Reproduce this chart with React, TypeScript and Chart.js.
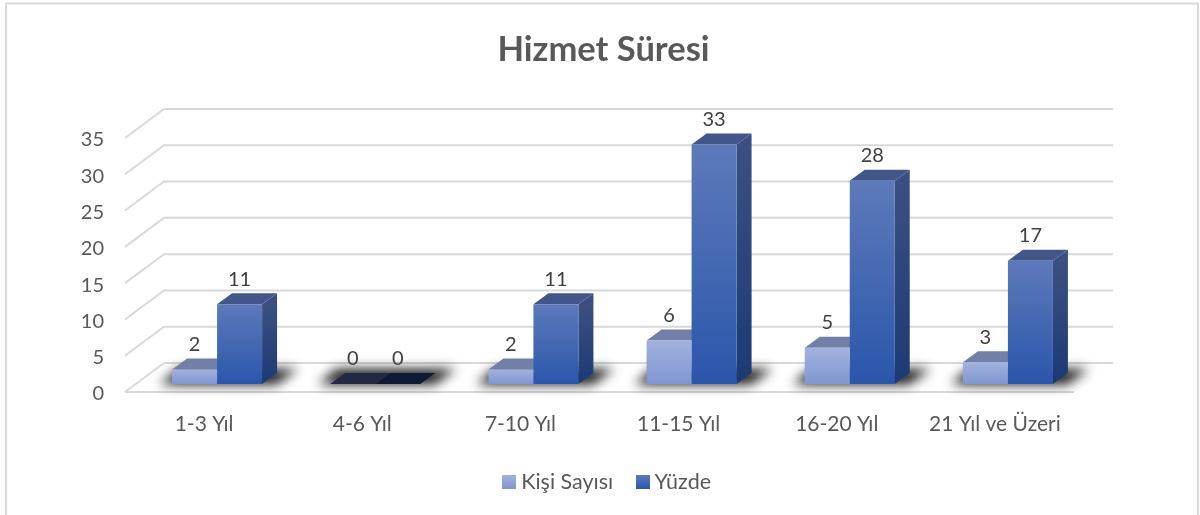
import React, { useEffect, useRef } from "react";
import { Chart, registerables } from "chart.js";

Chart.register(...registerables);

const titleText = "Hizmet Süresi";
const categories = ["1-3 Yıl", "4-6 Yıl", "7-10 Yıl", "11-15 Yıl", "16-20 Yıl", "21 Yıl ve Üzeri"];
const kisiSayisi = [2, 0, 2, 6, 5, 3];
const yuzde = [11, 0, 11, 33, 28, 17];
const seriesNames = ["Kişi Sayısı", "Yüzde"];

const FONT = "Lato, Carlito, 'Open Sans', sans-serif";
const GRID = "#d9d9d9";
const WALL_DX = 39;
const WALL_DY = -29;
const BAR_DX = 13;
const BAR_DY = -8;
const DEPTH_DX = 15;
const DEPTH_DY = -11;
const LEGEND_SHIFT = 6;

const palette = [
  { top: "#a3b2df", bottom: "#7f96d0", lid: "#7280a8", sideTop: "#5f6f9c", sideBottom: "#47598f", zero: "#212a42" },
  { top: "#5d7aba", bottom: "#2a56ab", lid: "#42568a", sideTop: "#3b5080", sideBottom: "#1b3a75", zero: "#0e1a36" },
];

function swatch(i: number) {
  const c = document.createElement("canvas");
  c.width = 14;
  c.height = 14;
  const g = c.getContext("2d")!;
  const lin = g.createLinearGradient(0, 0, 0, 14);
  lin.addColorStop(0, palette[i].top);
  lin.addColorStop(1, palette[i].bottom);
  g.fillStyle = lin;
  g.fillRect(0, 0, 14, 14);
  return c;
}

function poly(ctx: CanvasRenderingContext2D, pts: number[][], fill: any) {
  ctx.beginPath();
  pts.forEach((p, i) => (i ? ctx.lineTo(p[0], p[1]) : ctx.moveTo(p[0], p[1])));
  ctx.closePath();
  ctx.fillStyle = fill;
  ctx.fill();
}

const backdrop = {
  id: "backdrop",
  afterLayout(chart: any) {
    if (chart.legend) {
      chart.legend.left += LEGEND_SHIFT;
      chart.legend.right += LEGEND_SHIFT;
    }
  },
  beforeDraw(chart: any) {
    const { ctx, chartArea, scales } = chart;
    ctx.save();
    ctx.strokeStyle = GRID;
    ctx.lineWidth = 2;
    ctx.strokeRect(6, 3.5, 1192, 600);
    scales.y.ticks.forEach((_: any, i: number) => {
      const y = scales.y.getPixelForTick(i);
      ctx.beginPath();
      ctx.moveTo(chartArea.left, y);
      ctx.lineTo(chartArea.left + WALL_DX, y + WALL_DY);
      if (i > 0) ctx.lineTo(chartArea.right + WALL_DX, y + WALL_DY);
      ctx.stroke();
    });
    const y0 = scales.y.getPixelForValue(0);
    ctx.beginPath();
    ctx.moveTo(chartArea.right, y0);
    ctx.lineTo(chartArea.left, y0);
    ctx.moveTo(chartArea.left + WALL_DX, y0 + WALL_DY);
    ctx.lineTo(chartArea.right + WALL_DX, y0 + WALL_DY);
    ctx.stroke();
    ctx.restore();
  },
};

const bars3d = {
  id: "bars3d",
  beforeDatasetsDraw(chart: any) {
    const { ctx } = chart;
    ctx.save();
    ctx.translate(BAR_DX, BAR_DY);
    const m0 = chart.getDatasetMeta(0).data;
    const m1 = chart.getDatasetMeta(1).data;
    // soft floor shadow under each pair of bars
    ctx.save();
    ctx.filter = "blur(6px)";
    m0.forEach((el: any, i: number) => {
      const L = el.x - el.width / 2;
      const R = m1[i].x + m1[i].width / 2;
      const b = el.base;
      poly(ctx, [[L - 12, b + 0.5], [R + 14, b + 0.5], [R + 36, b - 15], [L + 6, b - 15]], "rgba(0,0,0,0.9)");
    });
    ctx.restore();
    [m0, m1].forEach((meta: any[], s: number) => {
      meta.forEach((el: any, i: number) => {
        const p = palette[s];
        const v = (s === 0 ? kisiSayisi : yuzde)[i];
        const l = el.x - el.width / 2;
        const r = el.x + el.width / 2;
        const side = ctx.createLinearGradient(0, el.y, 0, el.base);
        side.addColorStop(0, p.sideTop);
        side.addColorStop(1, p.sideBottom);
        if (v > 0) poly(ctx, [[r, el.y], [r + DEPTH_DX, el.y + DEPTH_DY], [r + DEPTH_DX, el.base + DEPTH_DY], [r, el.base]], side);
        poly(ctx, [[l, el.y], [r, el.y], [r + DEPTH_DX, el.y + DEPTH_DY], [l + DEPTH_DX, el.y + DEPTH_DY]], v > 0 ? p.lid : p.zero);
      });
    });
  },
  afterDatasetsDraw(chart: any) {
    const { ctx } = chart;
    ctx.restore();
    ctx.save();
    ctx.font = `20px ${FONT}`;
    ctx.fillStyle = "#404040";
    ctx.textAlign = "center";
    ctx.textBaseline = "middle";
    chart.data.datasets.forEach((ds: any, s: number) => {
      chart.getDatasetMeta(s).data.forEach((el: any, i: number) => {
        ctx.fillText(String(ds.data[i]), el.x + BAR_DX, el.y + BAR_DY - 25);
      });
    });
    ctx.restore();
  },
};

function face(s: number) {
  return (c: any) => {
    const chart = c.chart;
    const y = chart.scales?.y;
    if (!y || !c.parsed) return palette[s].top;
    const g = chart.ctx.createLinearGradient(0, y.getPixelForValue(c.parsed.y), 0, y.getPixelForValue(0));
    g.addColorStop(0, palette[s].top);
    g.addColorStop(1, palette[s].bottom);
    return g;
  };
}

export default function App() {
  const ref = useRef<HTMLCanvasElement>(null);
  useEffect(() => {
    document.body.style.margin = "0";
    const chart = new Chart(ref.current!, {
      type: "bar",
      data: {
        labels: categories,
        datasets: [
          { label: seriesNames[0], data: kisiSayisi, backgroundColor: face(0), clip: false } as any,
          { label: seriesNames[1], data: yuzde, backgroundColor: face(1), clip: false } as any,
        ],
      },
      options: {
        responsive: false,
        animation: false,
        layout: { padding: { left: 7, right: 0, top: 0, bottom: 12 } },
        datasets: { bar: { categoryPercentage: 0.569, barPercentage: 1 } },
        plugins: {
          title: {
            display: true,
            text: titleText,
            color: "#595959",
            font: { family: FONT, size: 34.5, weight: "bold" },
            padding: { top: 29, bottom: 67.6 },
          },
          legend: {
            position: "bottom",
            labels: {
              color: "#595959",
              font: { family: FONT, size: 21.5 },
              padding: 28,
              usePointStyle: true,
              pointStyleWidth: 2.5,
              generateLabels: () =>
                seriesNames.map((n, i) => ({
                  text: n,
                  datasetIndex: i,
                  fontColor: "#595959",
                  pointStyle: swatch(i) as any,
                  lineWidth: 0,
                  strokeStyle: "transparent",
                  fillStyle: palette[i].top,
                })),
            },
          },
          tooltip: { enabled: false },
        },
        scales: {
          x: {
            grid: { display: false, drawTicks: false },
            border: { display: false },
            ticks: { color: "#595959", font: { family: FONT, size: 21 }, padding: 20, maxRotation: 0, autoSkip: false },
            afterFit: (s: any) => { s.height = 51.5; },
          },
          y: {
            min: 0,
            max: 35,
            grid: { display: false, drawTicks: false },
            border: { display: false },
            ticks: { stepSize: 5, color: "#595959", font: { family: FONT, size: 20 }, padding: 21, labelOffset: 2 },
            afterFit: (s: any) => { s.width = 118; },
          },
          yRight: {
            position: "right",
            display: true,
            grid: { display: false, drawTicks: false },
            border: { display: false },
            ticks: { display: false },
            afterFit: (s: any) => { s.width = 126; },
          },
        },
      } as any,
      plugins: [backdrop, bars3d],
    });
    return () => chart.destroy();
  }, []);
  return <canvas ref={ref} width={1200} height={515} style={{ display: "block" }} />;
}
